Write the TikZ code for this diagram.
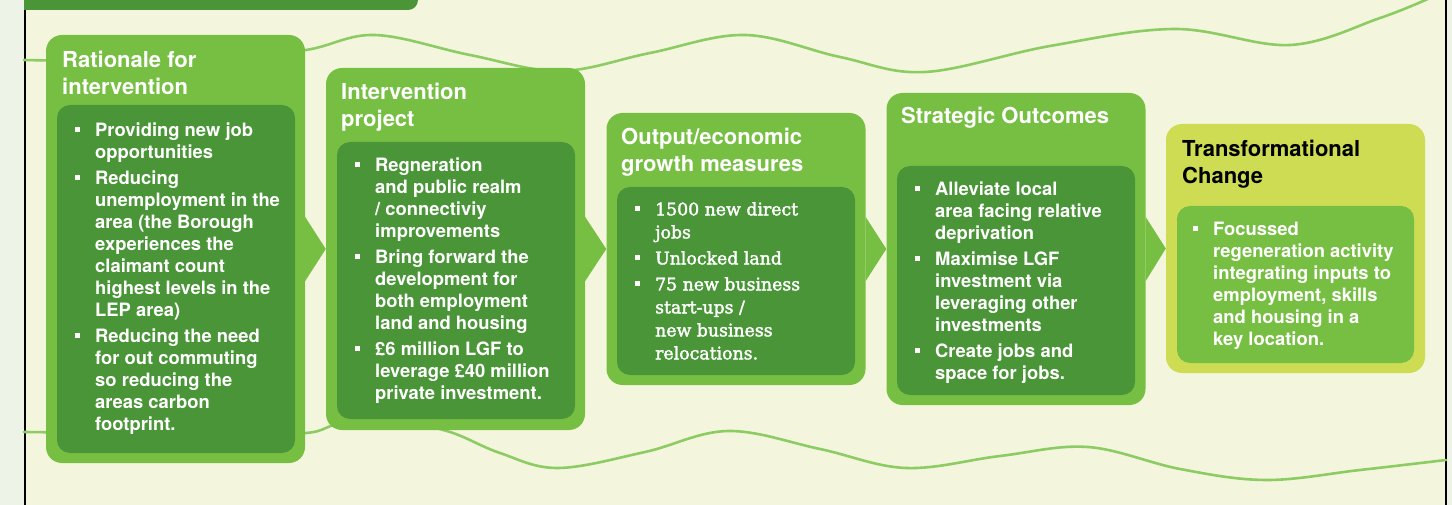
\documentclass[tikz,border=0pt]{standalone}
\usepackage{fontspec}
\setmainfont{TeX Gyre Heros}
\newfontfamily\slabfont[FakeBold=2]{DejaVu Serif}
\usetikzlibrary{positioning, calc}
\definecolor{cpage}{HTML}{F3F6DC}
\definecolor{cstrip}{HTML}{EDF3E6}
\definecolor{clight}{HTML}{77BF43}
\definecolor{cdark}{HTML}{4A9538}
\definecolor{clime}{HTML}{CDDC52}
\definecolor{cwave}{HTML}{8DCB64}
\newcommand{\bul}{\makebox[20pt][l]{\rule[4.5pt]{5pt}{5pt}}}
\newcommand{\ind}{\hspace*{20pt}}
\tikzset{
  outer/.style={fill=#1, rounded corners=16pt, inner sep=0pt, minimum width=259pt},
  outer/.default=clight,
  inner/.style={fill=#1, rounded corners=13pt, inner sep=0pt, minimum width=238pt},
  inner/.default=cdark,
  head/.style={text=white, font=\fontsize{22}{27}\selectfont\bfseries, align=left, inner sep=0pt, anchor=north west},
  items/.style={text=white, font=\fontsize{18.4}{22}\selectfont\bfseries, align=left, inner sep=0pt, anchor=north west},
  chev/.style={fill=clight},
  wave/.style={draw=cwave, line width=2.6pt, line cap=round},
}

\begin{document}
\begin{tikzpicture}[x=1pt, y=-1pt]
  \useasboundingbox (0,0) rectangle (1452,505);
  % page
  \fill[cpage] (0,0) rectangle (1452,505);
  \fill[cstrip] (0,0) rectangle (24,505);
  \fill[cstrip] (1447,0) rectangle (1452,505);
  \fill[cdark] (24,-20) -- (24,10) [rounded corners=10pt] -- (418,10) -- (418,-20) -- cycle;
  \draw[line width=2pt] (24.5,10) -- (24.5,505);
  \draw[line width=2pt] (1446,0) -- (1446,505);

  % waves behind the boxes
  \draw[wave] plot[smooth, tension=0.6] coordinates {(24,60) (120,61) (220,58) (306,50) (375,35) (470,55) (560,71) (650,53) (745,35) (840,57) (925,72) (1050,46) (1175,29) (1290,45) (1380,18) (1430,-2)};
  \draw[wave] plot[smooth, tension=0.6] coordinates {(24,432) (120,433) (220,434) (306,433) (340,424) (400,422) (450,432) (500,453) (558,468) (645,452) (728,431) (820,449) (906,468) (1000,456) (1088,447) (1180,469) (1266,480) (1360,470) (1446,460)};

  % boxes
  \node[outer, minimum height=428pt] (b1) at (175.5,249) {};
  \node[inner, minimum height=348pt] (i1) at (176,279) {};
  \node[outer, minimum height=362pt] (b2) at (455.5,249) {};
  \node[inner, minimum height=277pt] (i2) at (456,280.5) {};
  \node[outer, minimum height=272pt] (b3) at (736,249) {};
  \node[inner, minimum height=188pt] (i3) at (736,281) {};
  \node[outer, minimum height=312pt] (b4) at (1016,249) {};
  \node[inner, minimum height=229pt] (i4) at (1016,280.5) {};
  \node[outer=clime, minimum height=249pt] (b5) at (1295.5,248.5) {};
  \node[inner=clight, minimum height=157pt, minimum width=237pt] (i5) at (1295.5,284.5) {};

  % chevrons from box to box
  \foreach \a/\b in {b1/b2, b2/b3, b3/b4, b4/b5}
    \fill[chev] ([yshift=32pt]\a.east) -- (\b.west) -- ([yshift=-32pt]\a.east) -- cycle;

  % titles
  \node[head] (t1) at (62,50.5) {Rationale for\\intervention};
  \node[head] (t2) at (341,82.5) {Intervention\\project};
  \node[head] (t3) at (621,127.5) {Output/economic\\growth measures};
  \node[head] (t4) at (901,106.5) {Strategic Outcomes};
  \node[head, text=black] (t5) at (1182,139.5) {Transformational\\Change};

  % bullet lists
  \node[items] (l1) at (75,123) {\bul Providing new job\\\ind opportunities\\[4pt]
    \bul Reducing\\\ind unemployment in the\\\ind area (the Borough\\\ind experiences the\\\ind claimant count\\\ind highest levels in the\\\ind LEP area)\\[4pt]
    \bul Reducing the need\\\ind for out commuting\\\ind so reducing the\\\ind areas carbon\\\ind footprint.};
  \node[items] (l2) at (355,158) {\bul Regneration\\\ind and public realm\\\ind / connectiviy\\\ind improvements\\[4pt]
    \bul Bring forward the\\\ind development for\\\ind both employment\\\ind land and housing\\[4pt]
    \bul £6 million LGF to\\\ind leverage £40 million\\\ind private investment.};
  \node[items, font=\fontsize{17.3}{23}\selectfont\slabfont] (l3) at (635,202) {\bul 1500 new direct\\\ind jobs\\[3pt]
    \bul Unlocked land\\[3pt]
    \bul 75 new business\\\ind start-ups /\\\ind new business\\\ind relocations.};
  \node[items] (l4) at (915,182) {\bul Alleviate local\\\ind area facing relative\\\ind deprivation\\[4pt]
    \bul Maximise LGF\\\ind investment via\\\ind leveraging other\\\ind investments\\[4pt]
    \bul Create jobs and\\\ind space for jobs.};
  \node[items] (l5) at (1193,222) {\bul Focussed\\\ind regeneration activity\\\ind integrating inputs to\\\ind employment, skills\\\ind and housing in a\\\ind key location.};
\end{tikzpicture}
\end{document}
